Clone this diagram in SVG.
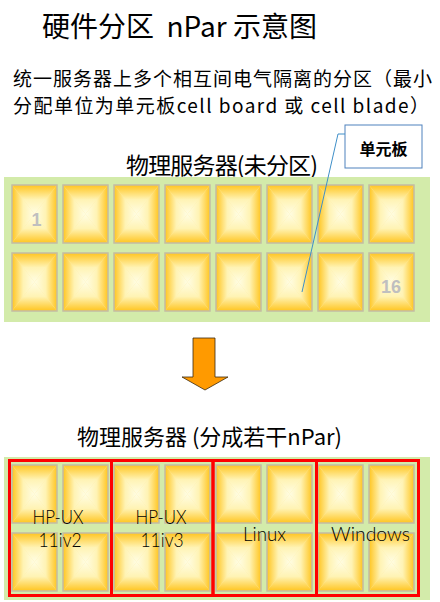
<svg xmlns="http://www.w3.org/2000/svg" width="440" height="602" viewBox="0 0 440 602">
<style>
.cjk{font-family:"Noto Sans CJK SC","Noto Sans",sans-serif;fill:#000}
.panel{fill:#d3ebaa}
.num{font-family:"Liberation Sans",Arial,sans-serif;font-weight:bold;font-size:18px;fill:#bfbfbf;text-anchor:middle}
.os{font-family:Lato,"DejaVu Sans",sans-serif;font-weight:300;font-size:20px;fill:#000;text-anchor:middle}
.frame{fill:none;stroke:#ff0000;stroke-width:3}
.edge{fill:none;stroke:#c4bca4;stroke-width:1.5}
</style>
<defs>
<linearGradient id="gT" x1="0" y1="0" x2="0" y2="1"><stop offset="0" stop-color="#ffc520"/><stop offset="0.5" stop-color="#fff3b4"/><stop offset="1" stop-color="#fffde4"/></linearGradient>
<linearGradient id="gB" x1="0" y1="1" x2="0" y2="0"><stop offset="0" stop-color="#ffc520"/><stop offset="0.5" stop-color="#fff3b4"/><stop offset="1" stop-color="#fffde4"/></linearGradient>
<linearGradient id="gL" x1="0" y1="0" x2="1" y2="0"><stop offset="0" stop-color="#ffc520"/><stop offset="0.5" stop-color="#fff3b4"/><stop offset="1" stop-color="#fffde4"/></linearGradient>
<linearGradient id="gR" x1="1" y1="0" x2="0" y2="0"><stop offset="0" stop-color="#ffc520"/><stop offset="0.5" stop-color="#fff3b4"/><stop offset="1" stop-color="#fffde4"/></linearGradient>
<g id="cell">
<rect x="0" y="0" width="45" height="58" fill="#ffeca0"/>
<polygon points="0,0 45,0 22.5,29" fill="url(#gT)"/>
<polygon points="0,58 45,58 22.5,29" fill="url(#gB)"/>
<polygon points="0,0 0,58 22.5,29" fill="url(#gL)"/>
<polygon points="45,0 45,58 22.5,29" fill="url(#gR)"/>
<rect class="edge" x="0" y="0" width="45" height="58"/>
</g>
</defs>
<rect width="440" height="602" fill="#ffffff"/>

<g id="title">
<text class="cjk" x="42" y="37" font-size="28" xml:space="preserve" style="white-space:pre">硬件分区  nPar 示意图</text>
</g>
<g id="subtitle">
<text class="cjk" x="13" y="85.5" font-size="19" textLength="419" lengthAdjust="spacing">统一服务器上多个相互间电气隔离的分区（最小</text>
<text class="cjk" x="13" y="113" font-size="19" textLength="416" lengthAdjust="spacing">分配单位为单元板cell board 或 cell blade）</text>
</g>

<g id="server-unpartitioned">
<text class="cjk" x="126" y="174" font-size="23" textLength="192" lengthAdjust="spacing">物理服务器(未分区)</text>
<rect class="panel" x="4" y="177" width="426" height="145"/>
<g id="cell-r1"><use href="#cell" x="12" y="185"/><use href="#cell" x="63" y="185"/><use href="#cell" x="114" y="185"/><use href="#cell" x="165" y="185"/><use href="#cell" x="216" y="185"/><use href="#cell" x="267" y="185"/><use href="#cell" x="318" y="185"/><use href="#cell" x="369" y="185"/></g>
<g id="cell-r2"><use href="#cell" x="12" y="253"/><use href="#cell" x="63" y="253"/><use href="#cell" x="114" y="253"/><use href="#cell" x="165" y="253"/><use href="#cell" x="216" y="253"/><use href="#cell" x="267" y="253"/><use href="#cell" x="318" y="253"/><use href="#cell" x="369" y="253"/></g>
<text class="num" x="36.5" y="226">1</text>
<text class="num" x="391" y="293">16</text>
</g>

<g id="callout">
<rect x="345" y="125" width="77" height="43" fill="#ffffff" stroke="#4f81bd" stroke-width="1"/>
<text class="cjk" x="383.5" y="155" font-size="16" font-weight="bold" text-anchor="middle">单元板</text>
</g>

<g id="connectors">
<polyline points="345,134 338,134 302,292" fill="none" stroke="#3f8fc8" stroke-width="1"/>
<polygon points="193,338 215,338 215,377 228,377 205,390 182,377 193,377" fill="#ff9a00" stroke="#3a2a10" stroke-width="0.8"/>
</g>

<g id="server-partitioned">
<text class="cjk" x="77" y="445" font-size="22">物理服务器 (分成若干nPar)</text>
<rect class="panel" x="4" y="457" width="426" height="143"/>
<g id="npar1">
<use href="#cell" x="12" y="465"/><use href="#cell" x="63" y="465"/><use href="#cell" x="12" y="533"/><use href="#cell" x="63" y="533"/>
<text class="os" x="58" y="524" textLength="51" lengthAdjust="spacingAndGlyphs">HP-UX</text>
<text class="os" x="60" y="547" textLength="43" lengthAdjust="spacingAndGlyphs">11iv2</text>
</g>
<g id="npar2">
<use href="#cell" x="114" y="465"/><use href="#cell" x="165" y="465"/><use href="#cell" x="114" y="533"/><use href="#cell" x="165" y="533"/>
<text class="os" x="161" y="524" textLength="51" lengthAdjust="spacingAndGlyphs">HP-UX</text>
<text class="os" x="162" y="547" textLength="43" lengthAdjust="spacingAndGlyphs">11iv3</text>
</g>
<g id="npar3">
<use href="#cell" x="216" y="465"/><use href="#cell" x="267" y="465"/><use href="#cell" x="216" y="533"/><use href="#cell" x="267" y="533"/>
<text class="os" x="264.5" y="541" textLength="43" lengthAdjust="spacingAndGlyphs">Linux</text>
</g>
<g id="npar4">
<use href="#cell" x="318" y="465"/><use href="#cell" x="369" y="465"/><use href="#cell" x="318" y="533"/><use href="#cell" x="369" y="533"/>
<text class="os" x="370.5" y="541" textLength="79" lengthAdjust="spacingAndGlyphs">Windows</text>
</g>
<rect class="frame" x="9.5" y="460.5" width="102" height="135"/>
<rect class="frame" x="111.5" y="460.5" width="101.5" height="135"/>
<rect class="frame" x="213" y="460.5" width="103.5" height="135"/>
<rect class="frame" x="316.5" y="460.5" width="102" height="135"/>
</g>
</svg>
